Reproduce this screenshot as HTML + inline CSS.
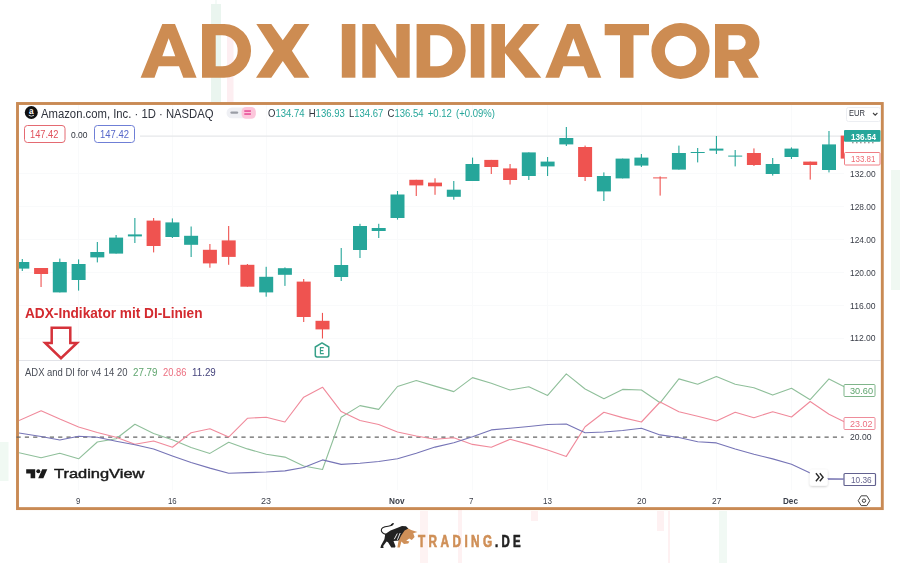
<!DOCTYPE html>
<html><head><meta charset="utf-8">
<style>
html,body{margin:0;padding:0;background:#fff;}
body{width:900px;height:563px;position:relative;overflow:hidden;font-family:"Liberation Sans",sans-serif;}
.abs{position:absolute;}
svg{position:absolute;left:0;top:0;}
.t{position:absolute;white-space:nowrap;line-height:1;}
#tv{-webkit-text-stroke:0.45px #1a1a1a;}
#ohlc{word-spacing:1.7px;}
#trd{-webkit-text-stroke:0.7px #cf8f57;}
#de{-webkit-text-stroke:0.7px #222;}
</style></head><body>
<svg width="900" height="563" viewBox="0 0 900 563">
<!-- faint background watermarks -->
<rect x="211" y="4" width="10" height="98" fill="#eaf5ef"/>
<rect x="215.5" y="0" width="1" height="102" fill="#eaf5ef"/>
<rect x="227" y="30" width="6.5" height="72" fill="#fdeef1"/>
<rect x="891" y="170" width="9" height="120" fill="#f0f8f2"/>
<rect x="0" y="442" width="8.5" height="39" fill="#f0f9f3"/>
<rect x="420" y="511" width="8" height="52" fill="#fef3f3"/>
<rect x="458" y="510" width="4" height="53" fill="#fef1f2"/>
<rect x="657" y="511" width="7" height="20" fill="#fef1f2"/><rect x="668" y="511" width="2" height="52" fill="#fef1f2"/>
<rect x="719" y="511" width="8" height="52" fill="#f1f9f4"/>
<rect x="531" y="511" width="7" height="10" fill="#fef1f2"/>
<!-- title -->

<g fill="#cd8c52" fill-rule="evenodd">
<!-- A -->
<path id="letA" d="M140.6,77.7 L162.3,24 H175 L196.6,77.7 H183.3 L179,66.3 H158.6 L154.5,77.7 Z M162.3,56.3 H175.3 L168.7,38.3 Z"/>
<!-- D -->
<path d="M202,24 H224.2 A26.85,26.85 0 0 1 224.2,77.7 H202 Z M215.7,35.3 H222.2 A15.5,15.5 0 0 1 222.2,66.3 H215.7 Z"/>
<!-- X -->
<path d="M256.3,24 H271.3 L282.8,40.3 L294.4,24 H309.4 L291.9,50.7 L309.4,77.7 H294.3 L282.8,61 L271.3,77.7 H256 L273.7,50.7 Z"/>
<!-- I -->
<rect x="341.8" y="24" width="13.6" height="53.7"/>
<!-- N -->
<path d="M362.3,24 H375 L396.3,58.6 V24 H409.7 V77.7 H397.5 L375.7,43.6 V77.7 H362.3 Z"/>
<!-- D -->
<path d="M416.6,24 H438.8 A26.85,26.85 0 0 1 438.8,77.7 H416.6 Z M430.2,35.3 H436.8 A15.5,15.5 0 0 1 436.8,66.3 H430.2 Z"/>
<!-- I -->
<rect x="470.8" y="24" width="13.6" height="53.7"/>
<!-- K -->
<path d="M491.4,24 H505 V47.3 L523.7,24 H539.5 L518.4,49 L541.3,77.7 H525.4 L505,53 V77.7 H491.4 Z"/>
<!-- A -->
<path d="M545.3,77.7 L567,24 H579.7 L601.3,77.7 H588 L583.7,66.3 H563.3 L559.2,77.7 Z M567,56.3 H580 L573.4,38.3 Z"/>
<!-- T -->
<path d="M604.7,24 H649 V35.3 H633.5 V77.7 H620 V35.3 H604.7 Z"/>
<!-- O -->
<path d="M680.5,23 A29.1,28 0 1 0 680.5,79 A29.1,28 0 1 0 680.5,23 Z M680.6,35.7 A15.7,15.3 0 1 1 680.6,66.3 A15.7,15.3 0 1 1 680.6,35.7 Z"/>
<!-- R -->
<path d="M715,24 H741 A18.5,18.5 0 0 1 748.5,59.4 L758.8,77.7 H743.5 L734,61 H728.4 V77.7 H715 Z M728.4,35.3 H738.5 A7.2,7.2 0 0 1 738.5,49.7 H728.4 Z"/>
</g>

<!-- frame -->
<rect x="17.5" y="103.5" width="864.8" height="405.1" fill="#fff" stroke="#c98a54" stroke-width="2.9"/>
<!-- grid -->
<g stroke="#f9fafb" stroke-width="1">
<line x1="78.5" y1="105" x2="78.5" y2="490"/><line x1="172.5" y1="105" x2="172.5" y2="490"/><line x1="266.5" y1="105" x2="266.5" y2="490"/>
<line x1="397.5" y1="105" x2="397.5" y2="490"/><line x1="472.5" y1="105" x2="472.5" y2="490"/><line x1="547.5" y1="105" x2="547.5" y2="490"/>
<line x1="641.5" y1="105" x2="641.5" y2="490"/><line x1="716.5" y1="105" x2="716.5" y2="490"/><line x1="791.5" y1="105" x2="791.5" y2="490"/>
<line x1="19" y1="173.5" x2="844" y2="173.5"/><line x1="19" y1="206.5" x2="844" y2="206.5"/><line x1="19" y1="239.5" x2="844" y2="239.5"/>
<line x1="19" y1="272.5" x2="844" y2="272.5"/><line x1="19" y1="305.5" x2="844" y2="305.5"/><line x1="19" y1="338.5" x2="844" y2="338.5"/>
</g>
<!-- price line -->
<line x1="140" y1="136.1" x2="844" y2="136.1" stroke="#e6e7ea" stroke-width="1.2"/>
<!-- pane separator -->
<line x1="19" y1="360.5" x2="881" y2="360.5" stroke="#e2e3e8" stroke-width="1"/>
<!-- candles -->
<g clip-path="url(#plotclip)">
<rect x="21.75" y="259.0" width="1.1" height="12.0" fill="#26a69a"/>
<rect x="15.3" y="262.0" width="14" height="6.6" fill="#26a69a"/>
<rect x="40.51" y="268.0" width="1.1" height="19.0" fill="#ef5350"/>
<rect x="34.1" y="268.0" width="14" height="6.0" fill="#ef5350"/>
<rect x="59.27" y="258.6" width="1.1" height="33.8" fill="#26a69a"/>
<rect x="52.8" y="262.0" width="14" height="30.4" fill="#26a69a"/>
<rect x="78.03" y="259.4" width="1.1" height="31.2" fill="#26a69a"/>
<rect x="71.6" y="264.0" width="14" height="16.0" fill="#26a69a"/>
<rect x="96.79" y="242.0" width="1.1" height="20.4" fill="#26a69a"/>
<rect x="90.3" y="252.0" width="14" height="5.4" fill="#26a69a"/>
<rect x="115.55" y="235.0" width="1.1" height="18.6" fill="#26a69a"/>
<rect x="109.1" y="237.6" width="14" height="16.0" fill="#26a69a"/>
<rect x="134.31" y="218.0" width="1.1" height="25.0" fill="#26a69a"/>
<rect x="127.9" y="234.4" width="14" height="2.0" fill="#26a69a"/>
<rect x="153.07" y="218.0" width="1.1" height="34.4" fill="#ef5350"/>
<rect x="146.6" y="220.6" width="14" height="25.4" fill="#ef5350"/>
<rect x="171.83" y="218.4" width="1.1" height="19.6" fill="#26a69a"/>
<rect x="165.4" y="222.4" width="14" height="14.6" fill="#26a69a"/>
<rect x="190.59" y="226.5" width="1.1" height="30.5" fill="#26a69a"/>
<rect x="184.1" y="235.8" width="14" height="9.0" fill="#26a69a"/>
<rect x="209.35" y="244.0" width="1.1" height="23.7" fill="#ef5350"/>
<rect x="202.9" y="249.8" width="14" height="13.6" fill="#ef5350"/>
<rect x="228.11" y="226.0" width="1.1" height="38.8" fill="#ef5350"/>
<rect x="221.7" y="240.4" width="14" height="16.5" fill="#ef5350"/>
<rect x="246.87" y="264.0" width="1.1" height="22.7" fill="#ef5350"/>
<rect x="240.4" y="264.8" width="14" height="21.9" fill="#ef5350"/>
<rect x="265.63" y="266.8" width="1.1" height="29.9" fill="#26a69a"/>
<rect x="259.2" y="276.8" width="14" height="15.6" fill="#26a69a"/>
<rect x="284.39" y="267.4" width="1.1" height="18.5" fill="#26a69a"/>
<rect x="277.9" y="268.2" width="14" height="6.6" fill="#26a69a"/>
<rect x="303.15" y="279.0" width="1.1" height="43.0" fill="#ef5350"/>
<rect x="296.7" y="281.6" width="14" height="35.4" fill="#ef5350"/>
<rect x="321.91" y="312.9" width="1.1" height="25.6" fill="#ef5350"/>
<rect x="315.5" y="320.8" width="14" height="8.6" fill="#ef5350"/>
<rect x="340.67" y="248.0" width="1.1" height="33.0" fill="#26a69a"/>
<rect x="334.2" y="265.0" width="14" height="12.0" fill="#26a69a"/>
<rect x="359.43" y="223.8" width="1.1" height="34.2" fill="#26a69a"/>
<rect x="353.0" y="226.0" width="14" height="24.0" fill="#26a69a"/>
<rect x="378.19" y="223.8" width="1.1" height="14.2" fill="#26a69a"/>
<rect x="371.7" y="228.0" width="14" height="3.0" fill="#26a69a"/>
<rect x="396.95" y="191.0" width="1.1" height="28.6" fill="#26a69a"/>
<rect x="390.5" y="194.5" width="14" height="23.5" fill="#26a69a"/>
<rect x="415.71" y="179.8" width="1.1" height="16.2" fill="#ef5350"/>
<rect x="409.3" y="179.8" width="14" height="5.6" fill="#ef5350"/>
<rect x="434.47" y="178.3" width="1.1" height="16.5" fill="#ef5350"/>
<rect x="428.0" y="182.6" width="14" height="3.7" fill="#ef5350"/>
<rect x="453.23" y="181.0" width="1.1" height="18.7" fill="#26a69a"/>
<rect x="446.8" y="189.7" width="14" height="7.1" fill="#26a69a"/>
<rect x="471.99" y="157.6" width="1.1" height="23.4" fill="#26a69a"/>
<rect x="465.5" y="164.0" width="14" height="17.0" fill="#26a69a"/>
<rect x="490.75" y="159.9" width="1.1" height="14.1" fill="#ef5350"/>
<rect x="484.3" y="159.9" width="14" height="7.1" fill="#ef5350"/>
<rect x="509.51" y="164.0" width="1.1" height="20.5" fill="#ef5350"/>
<rect x="503.1" y="168.4" width="14" height="11.6" fill="#ef5350"/>
<rect x="528.27" y="152.4" width="1.1" height="27.6" fill="#26a69a"/>
<rect x="521.8" y="152.4" width="14" height="23.6" fill="#26a69a"/>
<rect x="547.03" y="157.0" width="1.1" height="19.0" fill="#26a69a"/>
<rect x="540.6" y="161.6" width="14" height="4.8" fill="#26a69a"/>
<rect x="565.79" y="127.0" width="1.1" height="19.0" fill="#26a69a"/>
<rect x="559.3" y="138.0" width="14" height="6.4" fill="#26a69a"/>
<rect x="584.55" y="145.6" width="1.1" height="35.4" fill="#ef5350"/>
<rect x="578.1" y="147.0" width="14" height="30.0" fill="#ef5350"/>
<rect x="603.31" y="172.4" width="1.1" height="28.6" fill="#26a69a"/>
<rect x="596.9" y="176.0" width="14" height="15.4" fill="#26a69a"/>
<rect x="622.07" y="158.6" width="1.1" height="19.8" fill="#26a69a"/>
<rect x="615.6" y="158.6" width="14" height="19.8" fill="#26a69a"/>
<rect x="640.83" y="154.0" width="1.1" height="13.0" fill="#26a69a"/>
<rect x="634.4" y="157.6" width="14" height="8.0" fill="#26a69a"/>
<rect x="659.59" y="176.4" width="1.1" height="19.2" fill="#ef5350"/>
<rect x="653.1" y="177.4" width="14" height="1.0" fill="#ef5350"/>
<rect x="678.35" y="145.6" width="1.1" height="24.0" fill="#26a69a"/>
<rect x="671.9" y="153.0" width="14" height="16.6" fill="#26a69a"/>
<rect x="697.11" y="148.0" width="1.1" height="14.4" fill="#26a69a"/>
<rect x="690.7" y="152.0" width="14" height="1.0" fill="#26a69a"/>
<rect x="715.87" y="136.0" width="1.1" height="18.0" fill="#26a69a"/>
<rect x="709.4" y="148.6" width="14" height="2.0" fill="#26a69a"/>
<rect x="734.63" y="150.0" width="1.1" height="16.4" fill="#26a69a"/>
<rect x="728.2" y="155.6" width="14" height="1.0" fill="#26a69a"/>
<rect x="753.39" y="148.4" width="1.1" height="17.6" fill="#ef5350"/>
<rect x="746.9" y="153.0" width="14" height="12.0" fill="#ef5350"/>
<rect x="772.15" y="158.0" width="1.1" height="17.6" fill="#26a69a"/>
<rect x="765.7" y="164.0" width="14" height="10.0" fill="#26a69a"/>
<rect x="790.91" y="147.4" width="1.1" height="11.6" fill="#26a69a"/>
<rect x="784.5" y="148.6" width="14" height="8.4" fill="#26a69a"/>
<rect x="809.67" y="161.6" width="1.1" height="18.0" fill="#ef5350"/>
<rect x="803.2" y="161.6" width="14" height="3.4" fill="#ef5350"/>
<rect x="828.43" y="131.0" width="1.1" height="41.4" fill="#26a69a"/>
<rect x="822.0" y="144.4" width="14" height="25.6" fill="#26a69a"/>
<rect x="847.19" y="135.6" width="1.1" height="23.0" fill="#ef5350"/>
<rect x="840.7" y="135.6" width="14" height="23.0" fill="#ef5350"/>
</g>
<clipPath id="plotclip"><rect x="19" y="105" width="825" height="255"/></clipPath>
<!-- E marker -->
<path d="M315.3,347 L322,342.9 L328.8,347 V355 Q328.8,356.9 327,356.9 H317.1 Q315.3,356.9 315.3,355 Z" fill="#fff" stroke="#36a088" stroke-width="1.5" stroke-linejoin="round"/>
<path d="M323.8,347.6 H320.4 V353.6 H323.8 M320.4,350.6 H323.3" stroke="#36a088" stroke-width="1.1" fill="none"/>
<!-- dashed 20 -->
<line x1="16.5" y1="437.1" x2="843.5" y2="437.1" stroke="#666" stroke-width="1.3" stroke-dasharray="4.2 4.13"/>
<!-- indicator lines -->
<g clip-path="url(#indclip)">
<polyline points="19.0,452.8 41.1,457.8 59.8,453.3 78.6,458.8 97.3,442.0 116.1,438.8 134.9,424.3 153.6,433.5 172.4,439.8 191.1,447.5 209.9,453.4 228.7,442.2 247.4,448.9 266.2,454.2 284.9,457.1 303.7,466.0 322.5,469.5 341.2,417.2 360.0,405.6 378.7,409.4 397.5,386.5 416.3,380.5 435.0,386.1 453.8,391.6 472.5,377.6 491.3,383.2 510.1,390.0 528.8,386.7 547.6,395.4 566.3,373.9 585.1,389.0 603.9,398.7 622.6,389.4 641.4,390.0 660.1,402.8 678.9,378.9 697.7,384.2 716.4,376.5 735.2,384.2 753.9,387.7 772.7,395.1 791.5,388.2 810.2,399.7 829.0,378.9 847.7,388.5" fill="none" stroke="#8fbf9a" stroke-width="1.1" stroke-linejoin="round"/>
<polyline points="19.0,420.6 41.1,410.7 59.8,419.1 78.6,427.0 97.3,432.5 116.1,437.2 134.9,444.3 153.6,441.0 172.4,447.2 191.1,432.8 209.9,428.7 228.7,437.1 247.4,418.3 266.2,417.2 284.9,422.0 303.7,397.2 322.5,387.2 341.2,411.6 360.0,420.5 378.7,424.5 397.5,432.0 416.3,436.0 435.0,439.3 453.8,437.8 472.5,444.4 491.3,447.3 510.1,439.3 528.8,444.4 547.6,450.0 566.3,456.4 585.1,426.7 603.9,412.3 622.6,417.6 641.4,422.0 660.1,402.0 678.9,411.7 697.7,416.2 716.4,421.0 735.2,412.2 753.9,417.8 772.7,411.7 791.5,417.0 810.2,401.5 829.0,414.3 847.7,423.5" fill="none" stroke="#f08a9b" stroke-width="1.1" stroke-linejoin="round"/>
<polyline points="19.0,433.0 41.1,436.5 59.8,440.0 78.6,436.2 97.3,437.3 116.1,441.2 134.9,444.7 153.6,449.0 172.4,456.0 191.1,462.5 209.9,468.1 228.7,473.2 247.4,472.6 266.2,472.0 284.9,470.9 303.7,467.5 322.5,459.9 341.2,464.4 360.0,463.3 378.7,461.5 397.5,458.7 416.3,453.3 435.0,447.1 453.8,442.7 472.5,436.7 491.3,429.9 510.1,428.2 528.8,426.5 547.6,424.5 566.3,424.0 585.1,432.7 603.9,432.0 622.6,430.5 641.4,428.2 660.1,434.9 678.9,437.5 697.7,441.8 716.4,442.9 735.2,449.0 753.9,454.3 772.7,458.9 791.5,464.2 810.2,473.0 829.0,478.9 847.7,479.1" fill="none" stroke="#7674b6" stroke-width="1.1" stroke-linejoin="round"/>
</g>
<clipPath id="indclip"><rect x="19" y="361" width="825" height="130"/></clipPath>
<!-- annotation arrow -->
<path d="M51.7,327.8 H70.3 V343 H77 L61,358.2 L45.2,343 H51.7 Z" fill="none" stroke="#d5323a" stroke-width="2.5" stroke-linejoin="miter"/>
<!-- amazon logo -->
<circle cx="31.3" cy="112.5" r="6.5" fill="#111"/>
<path d="M28.7,115.3 Q31.4,117.1 34,115.2" fill="none" stroke="#fff" stroke-width="0.8"/>
<!-- pills -->
<rect x="226.5" y="107.5" width="29" height="10.8" rx="5.4" fill="#eff0f4"/>
<rect x="241.6" y="107" width="14.2" height="11.7" rx="4.5" fill="#fcc6db"/>
<rect x="230.4" y="111.4" width="7.8" height="2.4" rx="1.2" fill="#9a9da5"/>
<rect x="244.3" y="110.2" width="6.6" height="1.7" fill="#e8559c"/><rect x="244.3" y="113.2" width="6.6" height="1.7" fill="#e8559c"/>
<!-- value boxes -->
<rect x="24.5" y="125.5" width="40.5" height="17" rx="3" fill="#fff" stroke="#e46a72" stroke-width="1"/>
<rect x="94.5" y="125.5" width="40" height="17" rx="3" fill="#fff" stroke="#6f7fd6" stroke-width="1"/>
<!-- EUR box -->
<rect x="846.5" y="107.5" width="34" height="14" rx="2" fill="#fff" stroke="#eceef2" stroke-width="1"/>
<path d="M873,113 L875.2,115.2 L877.4,113" fill="none" stroke="#444" stroke-width="1.1"/>
<!-- price labels -->
<line x1="852" y1="142.7" x2="876" y2="142.7" stroke="#777" stroke-width="1.1" stroke-dasharray="1.6 2.4"/>
<rect x="844" y="130" width="36.5" height="11.8" rx="1" fill="#26a69a"/>
<rect x="844.5" y="152.5" width="35.5" height="12.5" rx="1" fill="#fff" stroke="#ef7e85" stroke-width="1"/>
<!-- indicator labels -->
<rect x="844" y="384.5" width="31" height="12" rx="1" fill="#fff" stroke="#7fb58a" stroke-width="1"/>
<rect x="844" y="417.5" width="31" height="12" rx="1" fill="#fff" stroke="#ee8c9a" stroke-width="1"/>
<rect x="844" y="473.5" width="31.5" height="12" rx="1" fill="#fff" stroke="#62618f" stroke-width="1.2"/>
<line x1="828" y1="479.2" x2="844" y2="479.2" stroke="#8684b8" stroke-width="1.1"/>
<!-- >> button -->
<filter id="sh" x="-30%" y="-30%" width="160%" height="170%"><feDropShadow dx="0" dy="0.8" stdDeviation="0.9" flood-color="#000" flood-opacity="0.22"/></filter>
<rect x="809.8" y="469.6" width="17.8" height="16.2" rx="2.5" fill="#fff" filter="url(#sh)"/>
<path d="M815.9,473.2 L819.2,477.2 L815.9,481.2 M819.8,473.2 L823.1,477.2 L819.8,481.2" fill="none" stroke="#2a2a2a" stroke-width="1.4"/>
<!-- settings hexagon -->
<path d="M858.2,500.7 L861.2,495.8 H866.8 L869.8,500.7 L866.8,505.6 H861.2 Z" fill="none" stroke="#444" stroke-width="1"/>
<circle cx="864" cy="500.7" r="1.7" fill="none" stroke="#444" stroke-width="1"/>
<!-- tradingview logo mark -->
<path d="M26.2,469.2 H35.2 V478.2 H30.6 V473.6 H26.2 Z" fill="#1a1a1a"/>
<circle cx="38.3" cy="471.2" r="2" fill="#1a1a1a"/>
<path d="M42.2,469.2 H47.3 L43.3,478.2 H38.2 Z" fill="#1a1a1a"/>
<!-- bull logo -->
<path d="M393.2,523.6 Q391.3,526 388.2,526.3 Q381,527 381.3,530.6 Q381.7,533.2 386,534.4" fill="none" stroke="#222" stroke-width="1.1" stroke-linecap="round"/>
<ellipse cx="392.2" cy="524.4" rx="1.6" ry="0.9" transform="rotate(-35 392.2 524.4)" fill="#222"/>
<path d="M385.3,534 L390.5,530.6 L397,528 L402,526 L406,526.2 L408.3,528.4 L403.5,534 L399.3,540.5 L393.5,541 L395.5,546.2 L395,547.6 L391.3,547.6 L388,542.2 L386.6,541.4 L383.2,546 L383.6,547.9 L380.4,547.9 L381,545.4 L384.4,539.2 Z" fill="#222"/>
<path d="M397.3,533.5 L394.3,539.2 M400.2,533 L397.4,539.8" stroke="#fff" stroke-width="0.9" fill="none"/>
<path d="M408.3,528.4 L411.2,530 L417.4,532.1 L413.2,533.2 L414.6,537 L411.8,540 L409.2,538.4 L406.2,540.8 L409.4,541.4 L408.2,543.6 L404,544 L401.4,541.4 L399.8,547.6 L397.4,547.6 L398.4,541.2 L401.2,535.4 L404.6,530.6 Z" fill="#cf9058"/>
</svg>

<div class="t" id="hdr" style="left:41.4px;top:107.74px;font-size:12px;font-weight:normal;color:#2f333d;letter-spacing:0px;transform:scaleX(0.9412);transform-origin:0 0;">Amazon.com, Inc. · 1D · NASDAQ</div>
<div class="t" id="ohlc" style="left:268px;top:107.71px;font-size:10.5px;font-weight:normal;color:#2f333d;letter-spacing:0px;transform:scaleX(0.9070);transform-origin:0 0;">O<span style="color:#26a69a">134.74</span>&nbsp;H<span style="color:#26a69a">136.93</span>&nbsp;L<span style="color:#26a69a">134.67</span>&nbsp;C<span style="color:#26a69a">136.54</span> <span style="color:#26a69a">+0.12 (+0.09%)</span></div>
<div class="t" id="v1" style="left:30.4px;top:129.09px;font-size:11px;font-weight:normal;color:#e0525c;letter-spacing:0px;transform:scaleX(0.8438);transform-origin:0 0;">147.42</div>
<div class="t" id="v0" style="left:70.9px;top:130.58px;font-size:9px;font-weight:normal;color:#2f333d;letter-spacing:0px;transform:scaleX(0.9412);transform-origin:0 0;">0.00</div>
<div class="t" id="v2" style="left:99.8px;top:129.09px;font-size:11px;font-weight:normal;color:#5667c9;letter-spacing:0px;transform:scaleX(0.8587);transform-origin:0 0;">147.42</div>
<div class="t" id="eur" style="left:849.4px;top:109.43px;font-size:9.3px;font-weight:normal;color:#2f333d;letter-spacing:0px;transform:scaleX(0.8146);transform-origin:0 0;">EUR</div>
<div class="t" id="amz" style="left:29px;top:107.66px;font-size:8.2px;font-weight:bold;color:#fff;letter-spacing:0px;transform:scaleX(1.0000);transform-origin:0 0;">a</div>
<div class="t" id="p1" style="left:850.7px;top:131.56px;font-size:9.5px;font-weight:bold;color:#fff;letter-spacing:0px;transform:scaleX(0.8602);transform-origin:0 0;">136.54</div>
<div class="t" id="p2" style="left:850.7px;top:153.86px;font-size:9.5px;font-weight:normal;color:#ef6b74;letter-spacing:0px;transform:scaleX(0.8430);transform-origin:0 0;">133.81</div>
<div class="t" id="s1" style="left:850.3px;top:168.97px;font-size:9.6px;font-weight:normal;color:#3a3e48;letter-spacing:0px;transform:scaleX(0.8724);transform-origin:0 0;">132.00</div>
<div class="t" id="s2" style="left:850.3px;top:201.97px;font-size:9.6px;font-weight:normal;color:#3a3e48;letter-spacing:0px;transform:scaleX(0.8724);transform-origin:0 0;">128.00</div>
<div class="t" id="s3" style="left:850.3px;top:234.87px;font-size:9.6px;font-weight:normal;color:#3a3e48;letter-spacing:0px;transform:scaleX(0.8724);transform-origin:0 0;">124.00</div>
<div class="t" id="s4" style="left:850.3px;top:267.77px;font-size:9.6px;font-weight:normal;color:#3a3e48;letter-spacing:0px;transform:scaleX(0.8724);transform-origin:0 0;">120.00</div>
<div class="t" id="s5" style="left:850.3px;top:300.67px;font-size:9.6px;font-weight:normal;color:#3a3e48;letter-spacing:0px;transform:scaleX(0.8938);transform-origin:0 0;">116.00</div>
<div class="t" id="s6" style="left:850.3px;top:333.47px;font-size:9.6px;font-weight:normal;color:#3a3e48;letter-spacing:0px;transform:scaleX(0.8938);transform-origin:0 0;">112.00</div>
<div class="t" id="i1" style="left:850px;top:385.50px;font-size:9.8px;font-weight:normal;color:#5fa56e;letter-spacing:0px;transform:scaleX(0.9376);transform-origin:0 0;">30.60</div>
<div class="t" id="i2" style="left:850px;top:418.70px;font-size:9.8px;font-weight:normal;color:#ec6f80;letter-spacing:0px;transform:scaleX(0.9172);transform-origin:0 0;">23.02</div>
<div class="t" id="i3" style="left:850px;top:432.40px;font-size:9.8px;font-weight:normal;color:#3a3e48;letter-spacing:0px;transform:scaleX(0.8764);transform-origin:0 0;">20.00</div>
<div class="t" id="i4" style="left:850.5px;top:474.70px;font-size:9.8px;font-weight:normal;color:#66658f;letter-spacing:0px;transform:scaleX(0.8438);transform-origin:0 0;">10.36</div>
<div class="t" id="ann" style="left:25.3px;top:305.85px;font-size:14px;font-weight:bold;color:#d32a2f;letter-spacing:0px;transform:scaleX(0.9753);transform-origin:0 0;">ADX-Indikator mit DI-Linien</div>
<div class="t" id="leg" style="left:24.8px;top:367.88px;font-size:10.3px;font-weight:normal;color:#4a4e58;letter-spacing:0px;transform:scaleX(0.9183);transform-origin:0 0;">ADX and DI for v4 14 20</div>
<div class="t" id="lg1" style="left:133.3px;top:367.88px;font-size:10.3px;font-weight:normal;color:#5fa56e;letter-spacing:0px;transform:scaleX(0.9503);transform-origin:0 0;">27.79</div>
<div class="t" id="lg2" style="left:162.7px;top:367.88px;font-size:10.3px;font-weight:normal;color:#ec6f80;letter-spacing:0px;transform:scaleX(0.9115);transform-origin:0 0;">20.86</div>
<div class="t" id="lg3" style="left:191.5px;top:367.88px;font-size:10.3px;font-weight:normal;color:#45437c;letter-spacing:0px;transform:scaleX(0.9514);transform-origin:0 0;">11.29</div>
<div class="t" id="tv" style="left:54.2px;top:466.96px;font-size:13.4px;font-weight:normal;color:#1a1a1a;letter-spacing:0px;transform:scaleX(1.2268);transform-origin:0 0;">TradingView</div>
<div class="t" id="t1" style="left:76px;top:495.96px;font-size:9.5px;font-weight:normal;color:#3a3e48;letter-spacing:0px;transform:scaleX(0.8307);transform-origin:0 0;">9</div>
<div class="t" id="t2" style="left:168px;top:495.96px;font-size:9.5px;font-weight:normal;color:#3a3e48;letter-spacing:0px;transform:scaleX(0.8225);transform-origin:0 0;">16</div>
<div class="t" id="t3" style="left:260.5px;top:495.96px;font-size:9.5px;font-weight:normal;color:#3a3e48;letter-spacing:0px;transform:scaleX(0.9453);transform-origin:0 0;">23</div>
<div class="t" id="t4" style="left:389.2px;top:495.96px;font-size:9.5px;font-weight:bold;color:#3a3e48;letter-spacing:0px;transform:scaleX(0.8634);transform-origin:0 0;">Nov</div>
<div class="t" id="t5" style="left:469.2px;top:495.96px;font-size:9.5px;font-weight:normal;color:#3a3e48;letter-spacing:0px;transform:scaleX(0.8307);transform-origin:0 0;">7</div>
<div class="t" id="t6" style="left:542.8px;top:495.96px;font-size:9.5px;font-weight:normal;color:#3a3e48;letter-spacing:0px;transform:scaleX(0.8508);transform-origin:0 0;">13</div>
<div class="t" id="t7" style="left:636.5px;top:495.96px;font-size:9.5px;font-weight:normal;color:#3a3e48;letter-spacing:0px;transform:scaleX(0.8886);transform-origin:0 0;">20</div>
<div class="t" id="t8" style="left:711.5px;top:495.96px;font-size:9.5px;font-weight:normal;color:#3a3e48;letter-spacing:0px;transform:scaleX(0.8792);transform-origin:0 0;">27</div>
<div class="t" id="t9" style="left:783.2px;top:495.96px;font-size:9.5px;font-weight:bold;color:#3a3e48;letter-spacing:0px;transform:scaleX(0.8545);transform-origin:0 0;">Dec</div>
<div class="t" id="trd" style="left:417.8px;top:533.46px;font-size:17.3px;font-weight:bold;color:#cf8f57;letter-spacing:5.0px;transform:scaleX(0.6823);transform-origin:0 0;">TRADING</div>
<div class="t" id="de" style="left:494.8px;top:533.46px;font-size:17.3px;font-weight:bold;color:#222;letter-spacing:5.0px;transform:scaleX(0.6619);transform-origin:0 0;">.DE</div>
</body></html>
